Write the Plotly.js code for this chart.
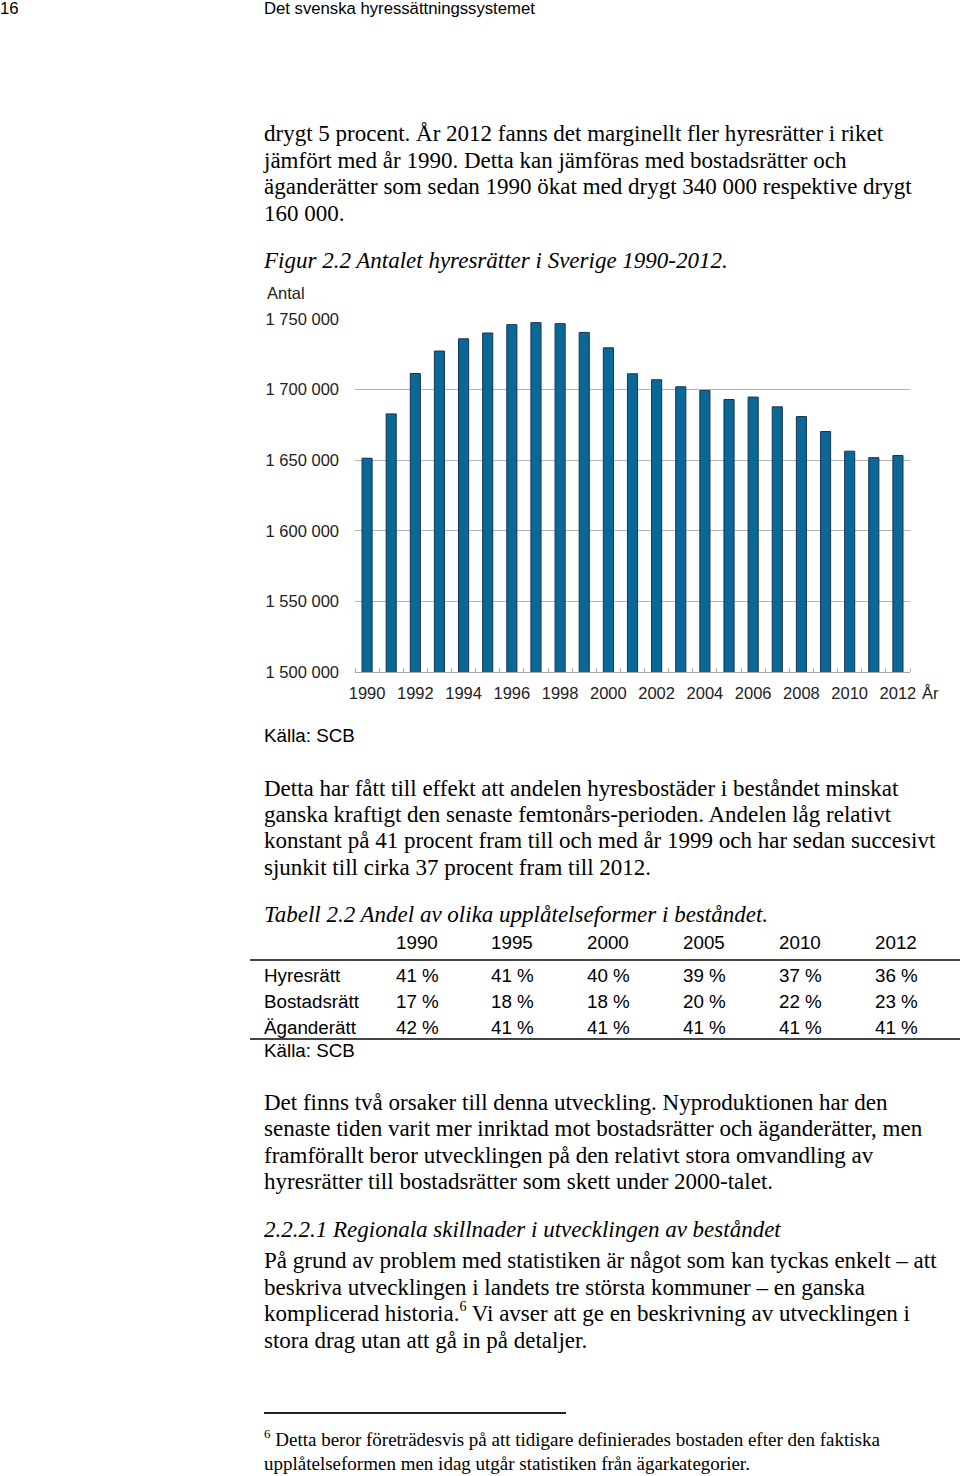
<!DOCTYPE html>
<html>
<head>
<meta charset="utf-8">
<script src="https://cdn.plot.ly/plotly-3.0.1.min.js"></script>
<style>
  html, body { margin:0; padding:0; background:#fff; }
  body { width:960px; height:1476px; position:relative; overflow:hidden; color:#000; }
  .t { position:absolute; white-space:nowrap; }
  .serif { font-family:"Liberation Serif","DejaVu Serif",serif; font-size:23px; line-height:26px; }
  .ital { font-style:italic; }
  .sans { font-family:"Liberation Sans",Arial,sans-serif; }
  .hr { position:absolute; background:#333; }
  #chart { position:absolute; left:250px; top:280px; width:700px; height:450px; }
</style>
</head>
<body>
<div class="t sans" style="left:0;top:-1px;font-size:16.7px;">16</div>
<div class="t sans" style="left:264px;top:-1px;font-size:16.7px;">Det svenska hyressättningssystemet</div>

<div class="t serif" style="left:264px;top:121px;">drygt 5 procent. År 2012 fanns det marginellt fler hyresrätter i riket</div>
<div class="t serif" style="left:264px;top:148px;">jämfört med år 1990. Detta kan jämföras med bostadsrätter och</div>
<div class="t serif" style="left:264px;top:174px;">äganderätter som sedan 1990 ökat med drygt 340 000 respektive drygt</div>
<div class="t serif" style="left:264px;top:201px;">160 000.</div>
<div class="t serif ital" style="left:264px;top:248px;">Figur 2.2 Antalet hyresrätter i Sverige 1990-2012.</div>

<div id="chart"></div>

<div class="t sans" style="left:264px;top:725px;font-size:18.8px;">Källa: SCB</div>

<div class="t serif" style="left:264px;top:776px;">Detta har fått till effekt att andelen hyresbostäder i beståndet minskat</div>
<div class="t serif" style="left:264px;top:802px;">ganska kraftigt den senaste femtonårs-perioden. Andelen låg relativt</div>
<div class="t serif" style="left:264px;top:828px;">konstant på 41 procent fram till och med år 1999 och har sedan succesivt</div>
<div class="t serif" style="left:264px;top:855px;">sjunkit till cirka 37 procent fram till 2012.</div>
<div class="t serif ital" style="left:264px;top:902px;">Tabell 2.2 Andel av olika upplåtelseformer i beståndet.</div>

<div id="table"></div>
<div class="hr" style="left:250px;top:959px;width:710px;height:2px;background:#444;"></div>
<div class="hr" style="left:250px;top:1038px;width:710px;height:1.5px;background:#444;"></div>
<div class="t sans" style="left:264px;top:1040px;font-size:18.8px;">Källa: SCB</div>

<div class="t serif" style="left:264px;top:1090px;">Det finns två orsaker till denna utveckling. Nyproduktionen har den</div>
<div class="t serif" style="left:264px;top:1116px;">senaste tiden varit mer inriktad mot bostadsrätter och äganderätter, men</div>
<div class="t serif" style="left:264px;top:1143px;">framförallt beror utvecklingen på den relativt stora omvandling av</div>
<div class="t serif" style="left:264px;top:1169px;">hyresrätter till bostadsrätter som skett under 2000-talet.</div>
<div class="t serif ital" style="left:264px;top:1217px;">2.2.2.1 Regionala skillnader i utvecklingen av beståndet</div>
<div class="t serif" style="left:264px;top:1248px;">På grund av problem med statistiken är något som kan tyckas enkelt – att</div>
<div class="t serif" style="left:264px;top:1275px;">beskriva utvecklingen i landets tre största kommuner – en ganska</div>
<div class="t serif" style="left:264px;top:1301px;">komplicerad historia.<sup style="font-size:14px;vertical-align:10px;line-height:0;">6</sup> Vi avser att ge en beskrivning av utvecklingen i</div>
<div class="t serif" style="left:264px;top:1328px;">stora drag utan att gå in på detaljer.</div>

<div class="hr" style="left:264px;top:1412px;width:302px;height:2px;background:#222;"></div>
<div class="t serif" style="left:264px;top:1429px;font-size:19px;line-height:22px;"><sup style="font-size:13px;vertical-align:8px;line-height:0;">6</sup> Detta beror företrädesvis på att tidigare definierades bostaden efter den faktiska</div>
<div class="t serif" style="left:264px;top:1453px;font-size:19px;line-height:22px;">upplåtelseformen men idag utgår statistiken från ägarkategorier.</div>

<script>
// ---- Chart data ----
var years = [1990,1991,1992,1993,1994,1995,1996,1997,1998,1999,2000,2001,2002,2003,2004,2005,2006,2007,2008,2009,2010,2011,2012];
var rentals = [1651400,1682800,1711400,1727300,1736000,1740100,1746000,1747400,1746700,1740500,1729600,1711200,1707000,1702000,1699400,1693000,1694700,1687800,1680900,1670300,1656400,1651800,1653300];
var xTickYears = [1990,1992,1994,1996,1998,2000,2002,2004,2006,2008,2010,2012];
var yTicks = [1500000,1550000,1600000,1650000,1700000,1750000];

// ---- Table data ----
var tableYears = ['1990','1995','2000','2005','2010','2012'];
var tableRows = ['Hyresrätt','Bostadsrätt','Äganderätt'];
var hyresratt = ['41 %','41 %','40 %','39 %','37 %','36 %'];
var bostadsratt = ['17 %','18 %','18 %','20 %','22 %','23 %'];
var aganderatt = ['42 %','41 %','41 %','41 %','41 %','41 %'];

// build table as positioned text
(function(){
  var colX = [396,491,587,683,779,875];
  var rowsVals = [hyresratt, bostadsratt, aganderatt];
  var rowTop = [965, 991, 1017];
  var html = '';
  tableYears.forEach(function(y,i){
    html += '<div class="t sans" style="left:'+colX[i]+'px;top:932px;font-size:18.8px;">'+y+'</div>';
  });
  tableRows.forEach(function(r,j){
    html += '<div class="t sans" style="left:264px;top:'+rowTop[j]+'px;font-size:18.8px;">'+r+'</div>';
    rowsVals[j].forEach(function(v,i){
      html += '<div class="t sans" style="left:'+colX[i]+'px;top:'+rowTop[j]+'px;font-size:18.8px;">'+v+'</div>';
    });
  });
  document.getElementById('table').innerHTML = html;
})();

var font = {family:'"Liberation Sans", Arial, sans-serif', size:16.5, color:'#222'};
var trace = {
  type:'bar', x:years, y:rentals, width:0.42,
  marker:{color:'#0a6898', line:{color:'#1a3550', width:1}},
  hoverinfo:'x+y'
};
var layout = {
  width:700, height:450,
  margin:{l:105, r:40, t:39, b:58},
  paper_bgcolor:'rgba(0,0,0,0)', plot_bgcolor:'rgba(0,0,0,0)',
  separators:', ',
  font:font,
  showlegend:false,
  xaxis:{
    type:'linear', range:[1989.5,2012.5], tickmode:'array', tickvals:xTickYears,
    ticks:'', showgrid:false, zeroline:false, showline:true, linecolor:'#a8a8a8', linewidth:1,
    tickfont:font, ticklabelstandoff:6,
    minor:{tick0:1989.5, dtick:1, ticks:'inside', ticklen:4, tickcolor:'#b0b0b0', showgrid:false}
  },
  yaxis:{
    range:[1500000,1750000], tickmode:'array', tickvals:yTicks, tickformat:',d',
    showgrid:true, gridcolor:'#b4b4b4', gridwidth:1, zeroline:false, showline:false, ticks:'',
    tickfont:font, ticklabelstandoff:15
  },
  annotations:[
    {text:'Antal', xref:'paper', yref:'paper', x:0, y:1, xanchor:'left', yanchor:'middle', xshift:-90, yshift:26, showarrow:false, font:font},
    {text:'År', xref:'paper', yref:'paper', x:1, y:0, xanchor:'left', yanchor:'middle', xshift:10, yshift:-21, showarrow:false, font:font}
  ]
};
Plotly.newPlot('chart', [trace], layout, {displayModeBar:false, staticPlot:true});
</script>
</body>
</html>
